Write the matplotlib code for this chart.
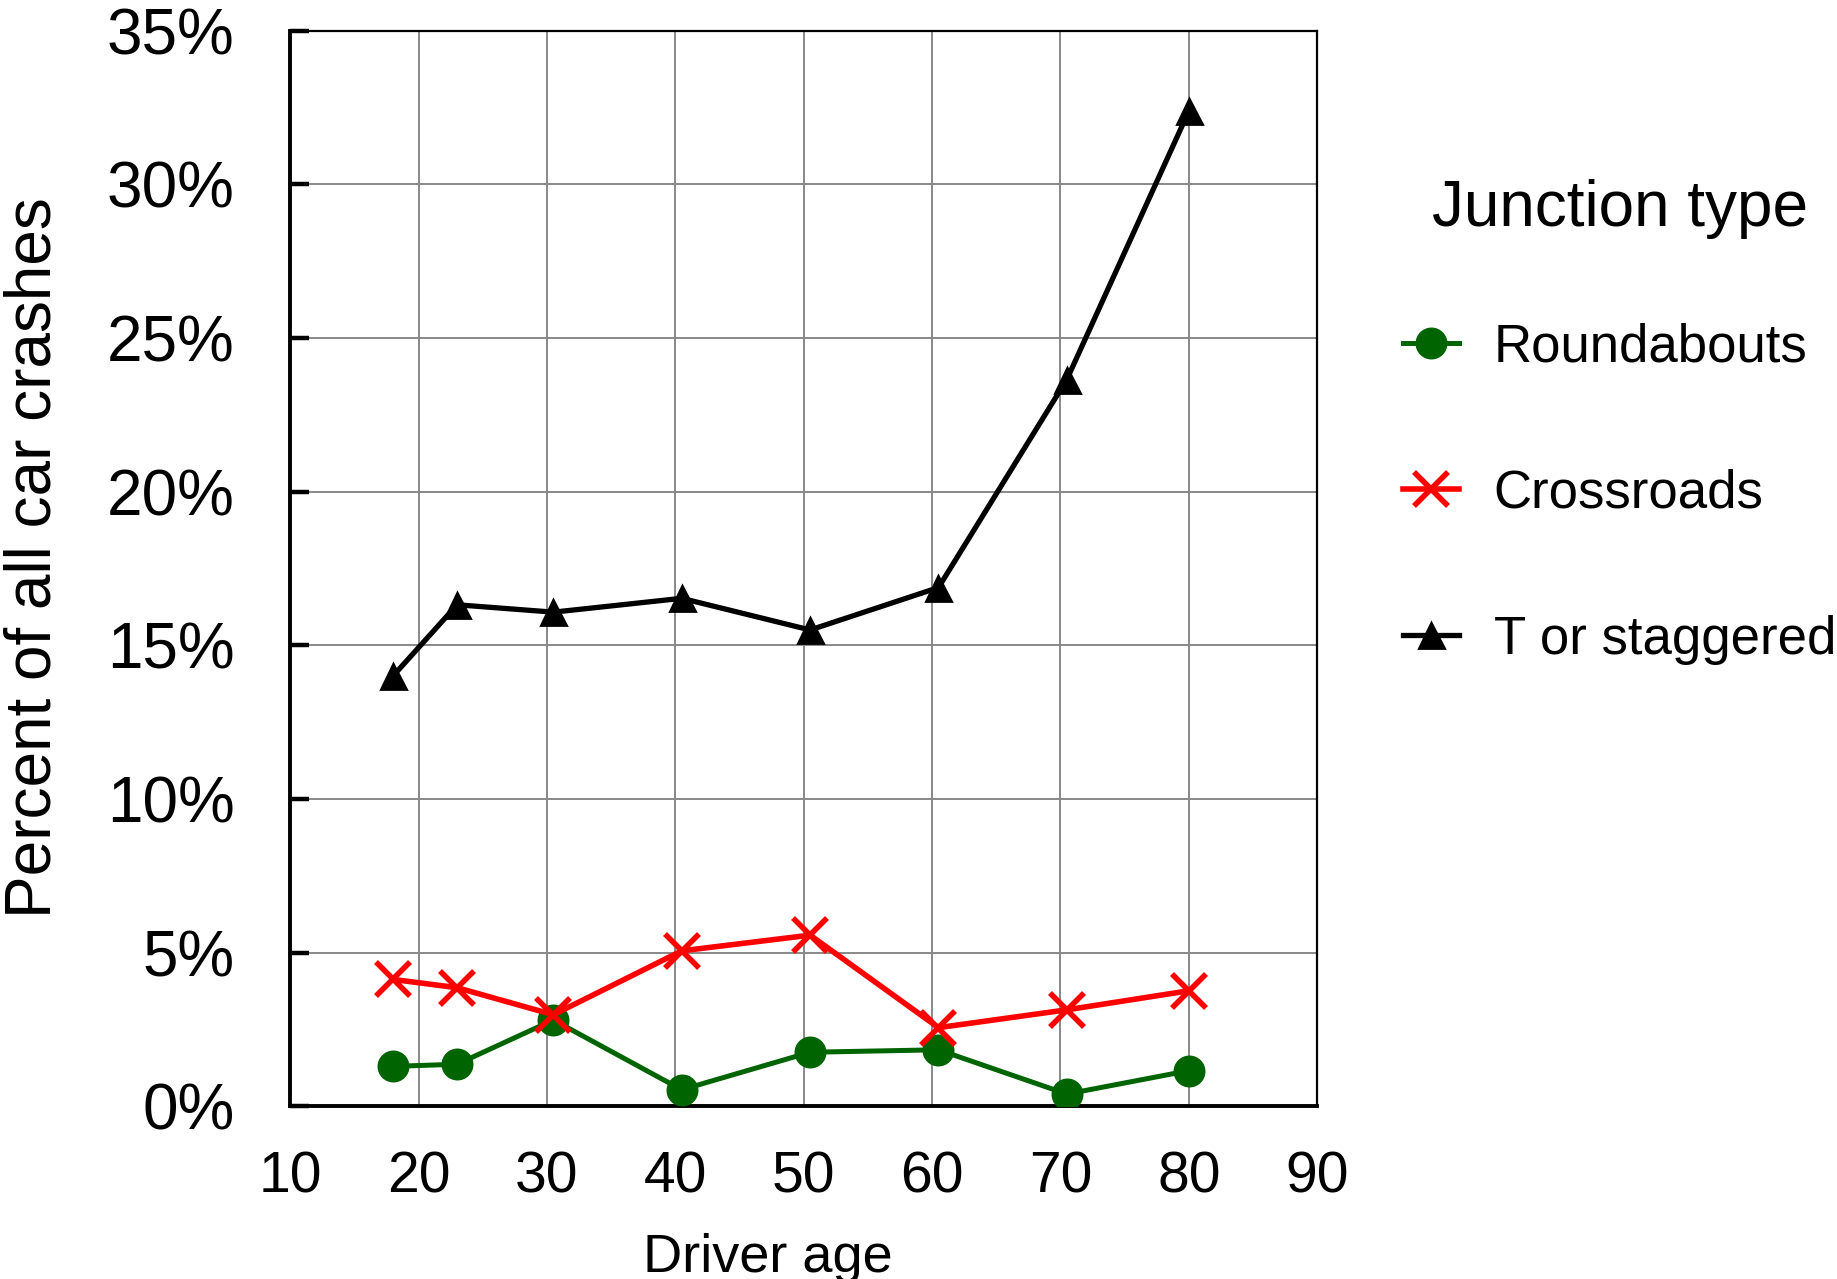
import matplotlib.pyplot as plt
from matplotlib.ticker import PercentFormatter

# Driver age (mid-point of age band)
ages = [18, 23, 30.5, 40.5, 50.5, 60.5, 70.5, 80]

# Percent of all car crashes by junction type
roundabouts = [1.30, 1.37, 2.81, 0.54, 1.76, 1.84, 0.40, 1.16]
crossroads = [4.13, 3.86, 2.98, 5.06, 5.57, 2.56, 3.14, 3.76]
t_staggered = [14.0, 16.32, 16.08, 16.53, 15.50, 16.88, 23.65, 32.38]

x_ticks = [10, 20, 30, 40, 50, 60, 70, 80, 90]
y_ticks = [0, 5, 10, 15, 20, 25, 30, 35]

plt.rcParams['font.family'] = ['Liberation Sans', 'DejaVu Sans']

fig = plt.figure(figsize=(9.185, 6.395), dpi=200)
ax = fig.add_axes([0.158, 0.135, 0.559, 0.841])

ax.plot(ages, roundabouts, color='#006400', marker='o', markersize=10.5,
        linewidth=1.8, label='Roundabouts', zorder=3)
ax.plot(ages, crossroads, color='#ff0000', marker='x', markersize=12,
        markeredgewidth=2.0, linewidth=2.0, label='Crossroads', zorder=3)
ax.plot(ages, t_staggered, color='black', marker='^', markersize=9,
        linewidth=1.9, label='T or staggered', zorder=3)

ax.set_xlim(10, 90)
ax.set_ylim(0, 35)
ax.set_xticks(x_ticks)
ax.set_yticks(y_ticks)
ax.yaxis.set_major_formatter(PercentFormatter(decimals=0))

ax.grid(True, color='#888888', linewidth=0.7)
ax.set_axisbelow(True)

for side in ['top', 'right']:
    ax.spines[side].set_linewidth(0.8)
for side in ['left', 'bottom']:
    ax.spines[side].set_linewidth(1.4)

ax.tick_params(axis='y', direction='in', length=7, width=1.6, pad=20, labelsize=23)
ax.tick_params(axis='x', length=0, pad=16, labelsize=20.5)

ax.set_xlabel('Driver age', fontsize=19.5, labelpad=10, x=0.465)
ax.set_ylabel('Percent of all car crashes', fontsize=23)
ax.yaxis.set_label_coords(-0.221, 0.51)

fig.legend(loc='upper left', bbox_to_anchor=(0.764, 0.860), frameon=False,
           title='Junction type', title_fontsize=23, fontsize=19,
           handlelength=1.05, handletextpad=0.66, labelspacing=1.82,
           borderpad=0, borderaxespad=0)
fig.legends[0]._legend_box.sep = 30

fig.savefig('out.png', dpi=200)
